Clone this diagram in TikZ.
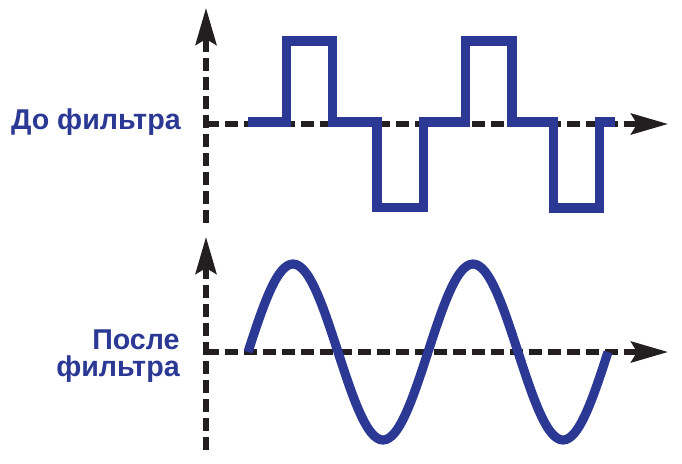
\documentclass[tikz,border=0pt]{standalone}
\usepackage{fontspec}
\newfontfamily\labelfont{Liberation Sans}
\usetikzlibrary{arrows.meta}
\definecolor{waveblue}{RGB}{43,56,148}
\definecolor{axisblack}{RGB}{35,31,32}
\tikzset{
  axisline/.style={axisblack,line width=2.9pt,dash pattern=on 0.254cm off 0.126cm,
    -{Stealth[length=0.74cm,width=0.42cm,inset=0.12cm]}},
  signal/.style={waveblue,line width=5.2pt,line join=miter},
  caption/.style={waveblue,font=\labelfont\bfseries\fontsize{16.3}{15.5}\selectfont,inner sep=0pt,align=right}
}
\begin{document}
\begin{tikzpicture}[x=0.02cm,y=-0.02cm]
\path[use as bounding box] (0,0) rectangle (682,463);
\coordinate (o1) at (206,124);
\coordinate (t1) at (206,8);
\coordinate (b1) at (206,223);
\coordinate (r1) at (668,124);
\coordinate (o2) at (206,352);
\coordinate (t2) at (206,237);
\coordinate (b2) at (206,450);
\coordinate (r2) at (668,352);
\draw[axisline] (b1) -- (t1);
\draw[axisline] (o1) -- (r1);
\draw[axisline] (b2) -- (t2);
\draw[axisline] (o2) -- (r2);
\draw[signal] (248,122) -| (286.5,41) -| (332.5,122) -| (377,207.5) -| (423.5,122)
  -| (465.5,41) -| (512,122) -| (553.5,208) -| (599.5,122) -- (615,122);
\draw[signal] plot[domain=248:608,samples=121,smooth] (\x,{352-88*sin(2*(\x-248))});
\node[caption,anchor=base east] (before) at (181,129) {До фильтра};
\node[caption,anchor=east] (after) at (180,356) {После\\фильтра};
\end{tikzpicture}
\end{document}
